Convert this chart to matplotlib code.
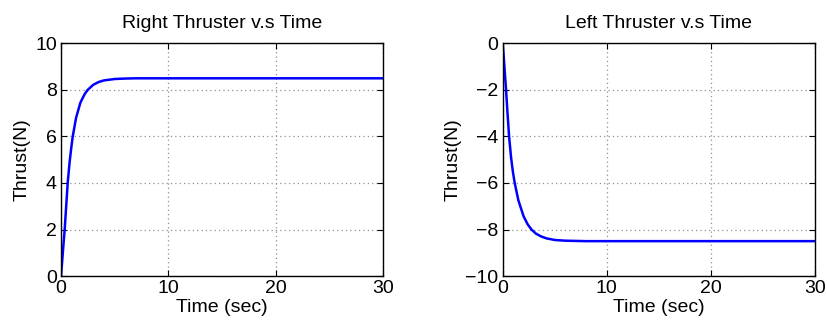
import numpy as np
import matplotlib
matplotlib.use("Agg")
import matplotlib.pyplot as plt

plt.rcParams['font.family'] = ['Liberation Sans', 'DejaVu Sans']

# right thruster
t_right = [0, 0.1, 0.2, 0.34, 0.48, 0.62, 0.8, 0.95, 1.09, 1.4, 1.8, 2.2, 2.48,
           3.0, 3.5, 4.0, 5.0, 6.0, 7.0, 10, 20, 30]
thrust_right = [0, 0.6, 1.2, 2.0, 3.0, 4.0, 4.9, 5.5, 6.0, 6.8, 7.45, 7.82, 8.0,
                8.22, 8.34, 8.41, 8.47, 8.49, 8.5, 8.5, 8.5, 8.5]

# left thruster
t_left = [0, 0.1, 0.2, 0.32, 0.46, 0.61, 0.8, 0.97, 1.15, 1.5, 2.0, 2.4, 2.76,
          3.2, 3.7, 4.2, 5.0, 6.0, 7.0, 8.0, 20, 30]
thrust_left = [0, -0.6, -1.25, -2.0, -3.0, -4.0, -4.9, -5.5, -6.0, -6.74, -7.43,
               -7.78, -8.0, -8.18, -8.3, -8.38, -8.45, -8.48, -8.49, -8.5, -8.5, -8.5]

titles = ['Right Thruster v.s Time', 'Left Thruster v.s Time']
ylims = [(0, 10), (-10, 0)]

fig = plt.figure(figsize=(8.27, 3.24), dpi=100)
ax1 = fig.add_axes([0.0738, 0.148, 0.3893, 0.718])
ax2 = fig.add_axes([0.6079, 0.148, 0.3776, 0.718])

for ax, t, y, ttl, yl in zip([ax1, ax2], [t_right, t_left],
                             [thrust_right, thrust_left], titles, ylims):
    ax.plot(t, y, color='#0000ff', lw=1.8)
    ax.set_xlim(0, 30)
    ax.set_ylim(*yl)
    ax.set_xticks([0, 10, 20, 30])
    ax.set_yticks(np.arange(yl[0], yl[1] + 1, 2))
    ax.grid(True, linestyle=(0, (1, 2.5)), color='#909090', lw=0.9)
    ax.tick_params(direction='in', length=4, width=0.8, top=True, right=True,
                   labelsize=14, pad=3)
    for s in ax.spines.values():
        s.set_linewidth(1.0)
    ax.set_title(ttl, fontsize=14, pad=11)
    ax.set_xlabel('Time (sec)', fontsize=14, labelpad=1.5)
    ax.set_ylabel('Thrust(N)', fontsize=14, labelpad=3)

fig.savefig('out.png', dpi=100)
